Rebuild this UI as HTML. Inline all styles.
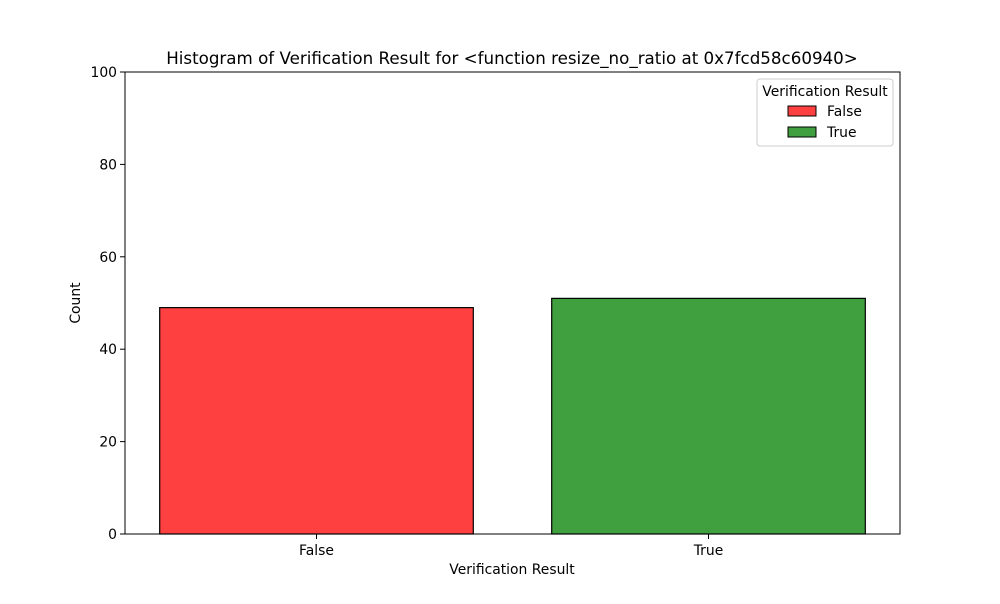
<!DOCTYPE html>
<html><head><meta charset="utf-8"><style>
body{margin:0;background:#fff;font-family:"DejaVu Sans",sans-serif;}
</style></head><body>
<svg width="1000" height="600" xmlns="http://www.w3.org/2000/svg" font-family="DejaVu Sans, sans-serif">
<rect width="1000" height="600" fill="#fff"/>
<g id="plot"></g>
<text x="512" y="64" text-anchor="middle" font-size="16.7">Histogram of Verification Result for &lt;function resize_no_ratio at 0x7fcd58c60940&gt;</text>
<text x="512" y="574" text-anchor="middle" font-size="13.9">Verification Result</text>
<text x="80" y="303" text-anchor="middle" font-size="13.9" transform="rotate(-90 80 303)">Count</text>
<g>
<rect x="757" y="79" width="136" height="67" rx="3" fill="#fff" stroke="#ccc"/>
<text x="825" y="96" text-anchor="middle" font-size="13.9">Verification Result</text>
<g><rect x="788" y="106" width="28" height="10" fill="#ff4040" stroke="#000"/><text x="827" y="116" font-size="13.9">False</text></g>
<g><rect x="788" y="127" width="28" height="10" fill="#40a040" stroke="#000"/><text x="827" y="137" font-size="13.9">True</text></g>
</g>
</svg>
<script>
const categories=["False","True"];
const counts=[49,51];
const colors=["#ff4040","#40a040"];
const yTicks=[0,20,40,60,80,100];
const L=125,R=900,T=72,B=534,xmin=-0.4885,xmax=1.4885,ymax=100;
const xs=v=>L+(v-xmin)/(xmax-xmin)*(R-L);
const ys=v=>B-v/ymax*(B-T);
const g=document.getElementById('plot');
const NS="http://www.w3.org/2000/svg";
function mk(t,a){const e=document.createElementNS(NS,t);for(const k in a)e.setAttribute(k,a[k]);g.appendChild(e);return e;}
counts.forEach((c,i)=>{
 const r=mk('rect',{x:xs(i-0.4),y:ys(c),width:xs(i+0.4)-xs(i-0.4),height:B-ys(c),fill:colors[i],stroke:'#000','stroke-width':1.2});
 
 
 mk('line',{x1:xs(i),x2:xs(i),y1:B,y2:B+5,stroke:'#000'});
 const t=mk('text',{x:xs(i),y:B+21,'text-anchor':'middle','font-size':13.9});t.textContent=categories[i];
 
 
});
yTicks.forEach(v=>{
 mk('line',{x1:L-5,x2:L,y1:ys(v),y2:ys(v),stroke:'#000'});
 const t=mk('text',{x:L-8,y:ys(v)+5,'text-anchor':'end','font-size':13.9});t.textContent=v;
 
 
});
const f=mk('rect',{x:L,y:T,width:R-L,height:B-T,fill:'none',stroke:'#000'});


</script>
</body></html>
